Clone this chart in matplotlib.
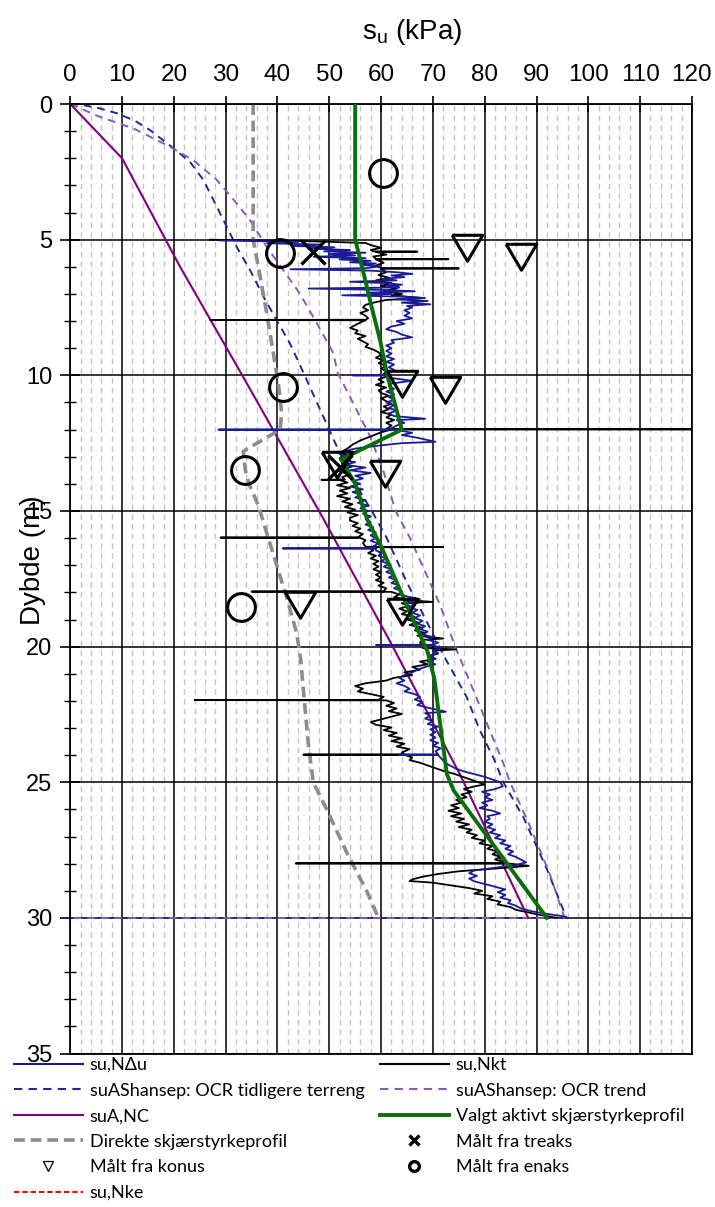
import matplotlib
matplotlib.use("Agg")
import matplotlib.pyplot as plt
from matplotlib.lines import Line2D
from matplotlib.ticker import MultipleLocator
import numpy as np

# ---------------------------------------------------------------- data
# CPT-derived undrained shear strength, (depth m, su kPa)
NKT = [
    (5.00, 27), (5.05, 45), (5.12, 57), (5.20, 58), (5.30, 60), (5.38, 58), (5.43, 58.5), (5.44, 67), (5.45, 59),
    (5.55, 61), (5.62, 58.5), (5.71, 59), (5.72, 73), (5.73, 59), (5.85, 60.5), (5.95, 59), (6.05, 60), (6.06, 75),
    (6.07, 60), (6.20, 61), (6.30, 59.5), (6.40, 61.5), (6.50, 59), (6.60, 62), (6.70, 60), (6.80, 63),
    (6.90, 60.5), (7.00, 64), (7.05, 62), (7.15, 68), (7.22, 61), (7.30, 59), (7.40, 57), (7.50, 56.5),
    (7.60, 57.5), (7.70, 56), (7.80, 57), (7.90, 57.5), (7.95, 57), (7.96, 27), (7.97, 57), (8.05, 56),
    (8.15, 55), (8.25, 54), (8.35, 55.5), (8.45, 55), (8.55, 57), (8.65, 55.5), (8.75, 56.5), (8.85, 57.5),
    (8.95, 57), (9.05, 58.5), (9.15, 59.5), (9.25, 60), (9.35, 59), (9.45, 60.5), (9.55, 59.5), (9.65, 61),
    (9.75, 60), (9.85, 61), (9.95, 60.5), (10.05, 61), (10.15, 59.5), (10.25, 60.5), (10.35, 59), (10.45, 61),
    (10.55, 59.5), (10.65, 60), (10.75, 61.5), (10.85, 60), (10.95, 61), (11.05, 62), (11.15, 60.5),
    (11.25, 61.5), (11.35, 60), (11.45, 62), (11.55, 61), (11.65, 62.5), (11.75, 61), (11.85, 62),
    (11.98, 61), (11.99, 125), (12.00, 62), (12.10, 60), (12.25, 58), (12.40, 56), (12.55, 54.5),
    (12.70, 53.5), (12.85, 52), (12.95, 53.5), (13.05, 52), (13.15, 54), (13.25, 52.5), (13.35, 54.5),
    (13.45, 53), (13.55, 52), (13.65, 54), (13.75, 52.5), (13.84, 53), (13.85, 48.5), (13.86, 52),
    (13.95, 53.5), (14.05, 51.5), (14.15, 54), (14.25, 52), (14.35, 53.5), (14.45, 51.5), (14.55, 54),
    (14.65, 52.5), (14.75, 54.5), (14.85, 53), (14.95, 55), (15.05, 53.5), (15.15, 55.5), (15.25, 54),
    (15.35, 54), (15.45, 55.5), (15.55, 54.5), (15.65, 56), (15.75, 55), (15.85, 56.5), (15.97, 55.5),
    (15.98, 29), (15.99, 56), (16.08, 57), (16.18, 56.5), (16.32, 57), (16.33, 72), (16.34, 57.5),
    (16.45, 58.5), (16.55, 57.5), (16.65, 59), (16.75, 58), (16.85, 59.5), (16.95, 58.5), (17.05, 59.5),
    (17.15, 58.5), (17.25, 60), (17.35, 59), (17.45, 60), (17.55, 59), (17.65, 60.5), (17.75, 59.5),
    (17.85, 61), (17.96, 60.5), (17.97, 35), (17.98, 62), (18.08, 63.5), (18.18, 62.5), (18.30, 66),
    (18.35, 70), (18.40, 64), (18.50, 65.5), (18.60, 63.5), (18.70, 65), (18.80, 64), (18.90, 66.5),
    (19.00, 65), (19.10, 67), (19.20, 65.5), (19.30, 68), (19.40, 66.5), (19.50, 68.5), (19.60, 67),
    (19.70, 72), (19.75, 68), (19.85, 67.5), (19.95, 69), (20.05, 68), (20.10, 74.5), (20.15, 70),
    (20.25, 71), (20.35, 69), (20.45, 70.5), (20.55, 67.5), (20.65, 69), (20.75, 66), (20.85, 67.5),
    (20.95, 64.5), (21.05, 66), (21.15, 62.5), (21.25, 61), (21.35, 57), (21.45, 55), (21.55, 56.5),
    (21.65, 55.5), (21.75, 58), (21.85, 60.5), (21.96, 59.5), (21.97, 24), (21.98, 61), (22.08, 62.5),
    (22.18, 61), (22.28, 63), (22.38, 61.5), (22.48, 64), (22.58, 62), (22.68, 60), (22.78, 58),
    (22.88, 59), (22.98, 62), (23.08, 60.5), (23.18, 63), (23.28, 61.5), (23.38, 64), (23.48, 62),
    (23.58, 64.5), (23.68, 63), (23.78, 65.5), (23.90, 64), (23.97, 64.5), (23.98, 45), (23.99, 64.5),
    (24.08, 66), (24.18, 65.5), (24.28, 67.5), (24.38, 69), (24.48, 70.5), (24.58, 72), (24.68, 74),
    (24.78, 75.5), (24.88, 77), (24.98, 78.5), (25.08, 80), (25.15, 78), (25.25, 76), (25.35, 77.5),
    (25.45, 75.5), (25.55, 76.5), (25.65, 74.5), (25.75, 75.5), (25.85, 73.5), (25.95, 75), (26.05, 73),
    (26.15, 75.5), (26.25, 73.5), (26.35, 76), (26.45, 74.5), (26.55, 77), (26.65, 75), (26.75, 77.5),
    (26.85, 76.5), (26.95, 78.5), (27.05, 77.5), (27.15, 80), (27.25, 79), (27.35, 81.5), (27.45, 80.5),
    (27.55, 82.5), (27.65, 81.5), (27.75, 83), (27.85, 82), (27.95, 84), (27.98, 84), (27.99, 43.5),
    (28.00, 85), (28.08, 88.5), (28.18, 82), (28.28, 75), (28.38, 71), (28.48, 68), (28.58, 66),
    (28.64, 65.5), (28.70, 70), (28.80, 73.5), (28.90, 77), (29.00, 79.5), (29.10, 78), (29.20, 81.5),
    (29.30, 80.5), (29.40, 83), (29.50, 82.5), (29.60, 85), (29.70, 86), (29.80, 88.5), (29.90, 91),
    (30.00, 94),
]

NDU = [
    (5.03, 29), (5.08, 44), (5.13, 38), (5.18, 48), (5.23, 43), (5.28, 51), (5.33, 46), (5.38, 54),
    (5.43, 49), (5.48, 57), (5.53, 50), (5.58, 55), (5.63, 47), (5.68, 57), (5.73, 52), (5.78, 58),
    (5.83, 54), (5.88, 59), (5.93, 56), (5.98, 60), (6.05, 57), (6.09, 42.5), (6.14, 58), (6.20, 63),
    (6.26, 66), (6.32, 62), (6.38, 64.5), (6.44, 60.5), (6.50, 63), (6.55, 54), (6.60, 61), (6.66, 64),
    (6.71, 61), (6.76, 63.5), (6.80, 46), (6.85, 60), (6.90, 66.5), (6.95, 58), (7.00, 62), (7.05, 52.5),
    (7.10, 64), (7.15, 68.5), (7.20, 63), (7.26, 69), (7.32, 64), (7.38, 69.5), (7.44, 65), (7.50, 66),
    (7.60, 64.5), (7.70, 65.5), (7.80, 64.5), (7.90, 66), (8.00, 63), (8.10, 64.5), (8.20, 62),
    (8.30, 61), (8.40, 63), (8.50, 64), (8.60, 66), (8.70, 62), (8.80, 62.5), (8.90, 61), (9.00, 62),
    (9.10, 61), (9.20, 62), (9.30, 61), (9.40, 62.5), (9.50, 61), (9.60, 62.5), (9.70, 61.5), (9.80, 62.5),
    (9.90, 61), (9.99, 61.5), (10.00, 54.5), (10.01, 61), (10.10, 62), (10.20, 66), (10.30, 62),
    (10.40, 61.5), (10.50, 62.5), (10.60, 61), (10.70, 62.5), (10.80, 61.5), (10.90, 62.5), (11.00, 61),
    (11.10, 62.5), (11.20, 61.5), (11.30, 63), (11.40, 61.5), (11.50, 62.5), (11.60, 68.5), (11.65, 63),
    (11.75, 64.5), (11.85, 63), (11.95, 62), (11.99, 62), (12.00, 28.6), (12.01, 63), (12.12, 66),
    (12.20, 64), (12.30, 67), (12.45, 70.5), (12.50, 64), (12.60, 59), (12.70, 55), (12.80, 53),
    (12.90, 52), (13.00, 53.5), (13.10, 52), (13.20, 55), (13.30, 53), (13.40, 57), (13.50, 54),
    (13.60, 58), (13.70, 55), (13.80, 56.5), (13.90, 54.5), (14.00, 56), (14.10, 54), (14.20, 56.5),
    (14.30, 54.5), (14.40, 56), (14.50, 55), (14.60, 57), (14.70, 55.5), (14.80, 57.5), (14.90, 56),
    (15.00, 57.5), (15.10, 56.5), (15.20, 58), (15.30, 57), (15.40, 58), (15.50, 57), (15.60, 58.5),
    (15.70, 57.5), (15.80, 59), (15.90, 58), (16.00, 59), (16.10, 58), (16.20, 59.5), (16.30, 58.5),
    (16.37, 59), (16.38, 41), (16.39, 59), (16.45, 59), (16.55, 60), (16.65, 59.5), (16.75, 61),
    (16.85, 60), (16.95, 61.5), (17.05, 60.5), (17.15, 62), (17.25, 61), (17.35, 62.5), (17.45, 61.5),
    (17.55, 63), (17.65, 62), (17.75, 63.5), (17.85, 62.5), (17.95, 64), (18.05, 63.5), (18.15, 65),
    (18.25, 67.5), (18.35, 65), (18.45, 66.5), (18.55, 65.5), (18.65, 67), (18.75, 66), (18.85, 67.5),
    (18.95, 66.5), (19.05, 68), (19.15, 67), (19.25, 68.5), (19.35, 67.5), (19.45, 69), (19.55, 68),
    (19.65, 70), (19.75, 69), (19.85, 71), (19.93, 70), (19.94, 59), (19.95, 70), (20.05, 71.5),
    (20.15, 70), (20.25, 71), (20.35, 69.5), (20.45, 70.5), (20.55, 69), (20.65, 70.5), (20.75, 68.5),
    (20.85, 67), (20.95, 66), (21.05, 64.5), (21.15, 63.5), (21.25, 64.5), (21.35, 63), (21.45, 64.5),
    (21.55, 65.5), (21.65, 64.5), (21.75, 66.5), (21.85, 67.5), (21.95, 66.5), (22.05, 68), (22.15, 67),
    (22.25, 69), (22.40, 72.5), (22.45, 68.5), (22.55, 69.5), (22.65, 68.5), (22.75, 70), (22.85, 69),
    (22.95, 71), (23.05, 69.5), (23.15, 70.5), (23.25, 69.5), (23.35, 70.5), (23.45, 69.5), (23.55, 71),
    (23.65, 70), (23.75, 71.5), (23.85, 70.5), (23.97, 71), (23.98, 63.5), (23.99, 71), (24.10, 71.5),
    (24.20, 72), (24.30, 72.5), (24.40, 73.5), (24.50, 74.5), (24.60, 76), (24.70, 78), (24.80, 80),
    (24.90, 81.5), (25.00, 83), (25.15, 83.5), (25.25, 82), (25.35, 79.5), (25.45, 81), (25.55, 80),
    (25.65, 81.5), (25.75, 79.5), (25.85, 80.5), (25.95, 79), (26.05, 81.5), (26.15, 83), (26.25, 80.5),
    (26.35, 81), (26.45, 80), (26.55, 81.5), (26.65, 80.5), (26.75, 82), (26.85, 81), (26.95, 83),
    (27.05, 82), (27.15, 84), (27.25, 83), (27.35, 85), (27.45, 84), (27.55, 85.5), (27.65, 84.5),
    (27.75, 86), (27.85, 87), (27.95, 88), (28.05, 86), (28.15, 82), (28.25, 78), (28.35, 77),
    (28.45, 78.5), (28.55, 77), (28.65, 78), (28.75, 80), (28.85, 82), (28.95, 84), (29.05, 82.5),
    (29.15, 84), (29.25, 83), (29.35, 85), (29.45, 84.5), (29.55, 86), (29.65, 87), (29.75, 89),
    (29.85, 92), (29.95, 95.5), (30.00, 96),
]

# SHANSEP profiles (depth m, su kPa)
SHANSEP_TERRENG = [
    (0, 0), (0.04, 2.5), (0.15, 5.5), (0.34, 9), (0.62, 12.5), (0.96, 15.4), (1.63, 19.9), (2.13, 23.1),
    (2.8, 25.7), (3.79, 28.3), (4.52, 30.2), (5.26, 32.1), (6.12, 34.7), (7.1, 37.3), (7.96, 39.8),
    (8.82, 42.4), (9.9, 45.0), (11.5, 48.8), (12.6, 51.4), (13.86, 54.6), (15.0, 58.2), (16.0, 61.1),
    (17.6, 64.9), (18.96, 68.5), (20.3, 72.0), (21.85, 76.5), (23.1, 79.1), (24.1, 81.7), (25.0, 83.6),
    (26.3, 87.5), (28.2, 92.0), (30.0, 95.8), (30.0, 0),
]
SHANSEP_TREND = [
    (0, 0), (0.47, 5.7), (0.9, 12.2), (1.51, 18.6), (2.06, 23.7), (2.8, 28.3), (3.66, 32.1), (4.28, 34.7),
    (5.26, 37.9), (6.12, 41.1), (6.98, 44.3), (8.08, 47.6), (9.19, 50.8), (9.9, 51.6), (11.28, 55.3),
    (12.26, 57.9), (13.5, 60.4), (15.0, 62.8), (16.0, 65.6), (17.36, 68.8), (18.47, 71.4), (20.0, 74.3),
    (21.6, 77.8), (23.1, 81.0), (24.3, 83.6), (25.0, 84.9), (26.6, 88.7), (28.4, 92.6), (30.0, 95.4),
    (30.0, 0),
]
SUA_NC = [(0, 0), (2, 10), (6, 21.2), (10, 33.2), (15.3, 48.9), (19.8, 61.7), (24.7, 75.2), (30, 88.4)]

VALGT = [
    (0, 55), (5.0, 55), (5.9, 56.2), (7.5, 58.2), (8.7, 59.8), (10.0, 61.2), (12.0, 64.0), (13.1, 52.3),
    (14.0, 55.0), (15.3, 57.3), (16.3, 60.0), (18.5, 65.0), (20.2, 69.0), (21.2, 70.3), (23.0, 71.5),
    (24.7, 72.7), (25.3, 74.0), (30.0, 92.0),
]
DIREKTE = [
    (0, 35.3), (5.0, 35.3), (6.2, 36.5), (7.8, 38.0), (9.3, 39.3), (10.5, 40.3), (11.4, 40.8),
    (12.0, 40.5), (12.8, 33.4), (13.5, 33.8), (14.0, 34.5), (14.8, 36.3), (16.6, 39.2), (18.2, 41.8),
    (19.5, 43.7), (20.5, 44.5), (21.6, 45.0), (23.5, 45.9), (25.0, 46.9), (26.0, 49.5), (27.6, 53.4),
    (29.0, 57.2), (30.0, 59.5),
]

# Laboratory / field measurements (su kPa, depth m)
TREAKS_SU = [46.9, 52.1]
TREAKS_Z = [5.44, 13.37]
ENAKS_SU = [60.4, 40.5, 41.1, 33.7, 33.0]
ENAKS_Z = [2.55, 5.48, 10.42, 13.49, 18.55]
KONUS_SU = [76.5, 87.1, 64.0, 72.3, 51.4, 60.8, 44.3, 64.0]
KONUS_Z = [5.26, 5.60, 10.27, 10.50, 13.27, 13.60, 18.42, 18.70]

X_TICKS = list(range(0, 121, 10))
Y_TICKS = list(range(0, 36, 5))


def split(pairs):
    arr = np.asarray(pairs, dtype=float)
    return arr[:, 0], arr[:, 1]


# ---------------------------------------------------------------- figure
fig = plt.figure(figsize=(7.15, 12.07), dpi=100)
ax = fig.add_axes([0.0983, 0.1271, 0.8694, 0.7867])

SANS = ["Liberation Sans", "DejaVu Sans"]
LEG = ["Lato", "DejaVu Sans"]

ax.set_xlim(0, 120)
ax.set_ylim(35, 0)
ax.xaxis.tick_top()
ax.set_xticks(X_TICKS)
ax.set_yticks(Y_TICKS)
ax.xaxis.set_minor_locator(MultipleLocator(2))
ax.yaxis.set_minor_locator(MultipleLocator(1))
ax.tick_params(axis="x", which="major", direction="inout", length=12, width=1.2, pad=7, labelsize=17.5)
ax.tick_params(axis="x", which="minor", length=0)
ax.tick_params(axis="y", which="major", direction="inout", length=14, width=1.2, pad=6, labelsize=17)
ax.tick_params(axis="y", which="minor", direction="inout", length=9, width=1.0)
for lab in ax.get_xticklabels() + ax.get_yticklabels():
    lab.set_family(SANS)

ax.grid(axis="x", which="minor", color="#c4c4c4", linestyle=(0, (4, 3)), linewidth=1.0, zorder=0)
ax.grid(axis="x", which="major", color="black", linewidth=1.1, zorder=0.5)
ax.grid(axis="y", which="major", color="black", linewidth=1.1, zorder=0.5)
ax.set_axisbelow(True)
for sp in ax.spines.values():
    sp.set_linewidth(1.3)
    sp.set_color("black")

# SHANSEP and NC profiles
z, s = split(SHANSEP_TERRENG)
ax.plot(s, z, color="#1f2a8c", lw=1.4, linestyle=(0, (4, 3)), zorder=2)
z, s = split(SHANSEP_TREND)
ax.plot(s, z, color="#8a5aae", lw=1.4, linestyle=(0, (4, 3)), zorder=2.1)
z, s = split(SUA_NC)
ax.plot(s, z, color="#800080", lw=1.5, zorder=2.2)
z, s = split(DIREKTE)
ax.plot(s, z, color="#8c8c8c", lw=2.6, linestyle=(0, (3, 1.6)), zorder=2.3)

# CPT interpretations
z, s = split(NKT)
ax.plot(s, z, color="black", lw=1.3, zorder=3)
z, s = split(NDU)
ax.plot(s, z, color="#1b1b96", lw=1.3, zorder=3.1)

z, s = split(VALGT)
ax.plot(s, z, color="#0a6e0a", lw=2.8, zorder=4)

# measurements
tri = [(-1, 0.8), (1, 0.8), (0, -0.9), (-1, 0.8)]
ax.plot(KONUS_SU, KONUS_Z, linestyle="none", marker=tri, ms=22, mfc="none", mec="black", mew=2.2, zorder=5)
ax.plot(ENAKS_SU, ENAKS_Z, linestyle="none", marker="o", ms=20, mfc="none", mec="black", mew=2.2, zorder=5)
ax.plot(TREAKS_SU, TREAKS_Z, linestyle="none", marker="x", ms=17, mec="black", mew=2.4, zorder=5)

# axis titles
fig.text(412 / 715, 1 - 32 / 1207, r"s$_\mathregular{u}$ (kPa)", ha="center", va="center",
         fontsize=20, family=SANS)
fig.text(33 / 715, 1 - 560 / 1207, "Dybde (m)", ha="center", va="center", rotation=90,
         fontsize=20, family=SANS)

# legend
h_ndu = Line2D([], [], color="#1b1b96", lw=1.5)
h_nkt = Line2D([], [], color="black", lw=1.5)
h_ter = Line2D([], [], color="#1f2a8c", lw=1.5, linestyle=(0, (4, 3)))
h_tre = Line2D([], [], color="#8a5aae", lw=1.5, linestyle=(0, (4, 3)))
h_nc = Line2D([], [], color="#800080", lw=1.5)
h_val = Line2D([], [], color="#0a6e0a", lw=2.8)
h_dir = Line2D([], [], color="#8c8c8c", lw=2.6, linestyle=(0, (3, 1.6)))
h_trx = Line2D([], [], linestyle="none", marker="x", ms=7, mec="black", mew=2.4)
h_kon = Line2D([], [], linestyle="none", marker="v", ms=7, mfc="none", mec="black", mew=0.9)
h_enk = Line2D([], [], linestyle="none", marker="o", ms=7, mfc="none", mec="black", mew=2.4)
h_nke = Line2D([], [], color="#ff0000", lw=1.5, linestyle=(0, (2.5, 1.5)))

common = dict(frameon=False, loc="upper left", handlelength=3.8, handletextpad=0.4,
              labelspacing=0.53, borderaxespad=0, borderpad=0,
              prop={"family": LEG, "size": 13})
leg1 = fig.legend([h_ndu, h_ter, h_nc, h_dir, h_kon, h_nke],
                  ["su,N\u0394u", "suAShansep: OCR tidligere terreng", "suA,NC",
                   "Direkte skjærstyrkeprofil", "Målt fra konus", "su,Nke"],
                  bbox_to_anchor=(14 / 715, 1 - 1057 / 1207), **common)
leg2 = fig.legend([h_nkt, h_tre, h_val, h_trx, h_enk],
                  ["su,Nkt", "suAShansep: OCR trend", "Valgt aktivt skjærstyrkeprofil",
                   "Målt fra treaks", "Målt fra enaks"],
                  bbox_to_anchor=(380 / 715, 1 - 1057 / 1207), **common)

fig.savefig("out.png", dpi=100)
